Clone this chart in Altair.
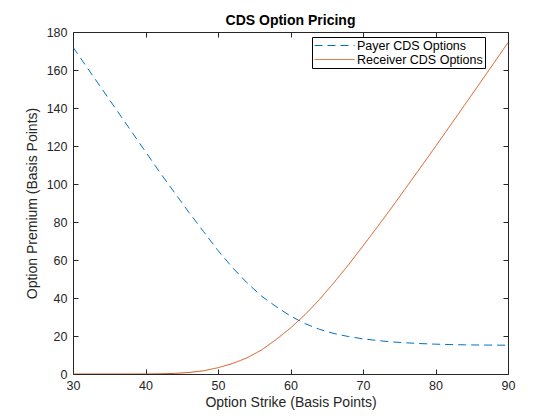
import altair as alt
import pandas as pd

strikes = [30, 32, 34, 36, 38, 40, 42, 44, 46, 48, 50, 52, 54, 56, 58, 60,
           62, 64, 66, 68, 70, 72, 74, 76, 78, 80, 82, 84, 86, 88, 90]
payer = [172.0, 161.0, 150.0, 139.0, 128.0, 117.0, 106.0, 95.5, 85.0, 75.0,
         65.0, 56.0, 48.0, 41.0, 35.5, 30.5, 26.5, 23.5, 21.3, 19.7, 18.5,
         17.6, 16.9, 16.4, 16.0, 15.7, 15.5, 15.35, 15.25, 15.2, 15.15]
receiver = [0.0, 0.0, 0.0, 0.0, 0.0, 0.02, 0.1, 0.3, 0.8, 1.7, 3.3, 5.5, 8.5,
            12.6, 18.1, 24.2, 31.2, 39.2, 48.1, 57.5, 67.4, 77.5, 87.8, 98.4,
            109.0, 119.7, 130.6, 141.5, 152.4, 163.4, 174.4]
series_names = ["Payer CDS Options", "Receiver CDS Options"]
x_ticks = [30, 40, 50, 60, 70, 80, 90]
y_ticks = [0, 20, 40, 60, 80, 100, 120, 140, 160, 180]
chart_title = ["CDS Option Pricing"]

rows = []
for k, p, r in zip(strikes, payer, receiver):
    rows.append({"strike": k, "premium": p, "series": series_names[0]})
    rows.append({"strike": k, "premium": r, "series": series_names[1]})
df = pd.DataFrame(rows)

FONT = "Liberation Sans"
AX = "#262626"
W, H = 435, 342

xscale = alt.Scale(domain=[30, 90], nice=False, zero=False)
yscale = alt.Scale(domain=[0, 180], nice=False)

lines = alt.Chart(df).mark_line(strokeWidth=1, clip=True).encode(
    x=alt.X("strike:Q", scale=xscale,
            axis=alt.Axis(orient="bottom", values=x_ticks, title="Option Strike (Basis Points)",
                          ticks=False, domain=False, grid=False, labelPadding=5,
                          labelFlush=False, titlePadding=4)),
    y=alt.Y("premium:Q", scale=yscale,
            axis=alt.Axis(orient="left", values=y_ticks, title="Option Premium (Basis Points)",
                          ticks=False, domain=False, grid=False, labelPadding=6,
                          labelFlush=False, titlePadding=7)),
    color=alt.Color("series:N", scale=alt.Scale(domain=series_names, range=["#0072BD", "#D95319"]),
                    title=None),
    strokeDash=alt.StrokeDash("series:N", scale=alt.Scale(domain=series_names, range=[[8, 5], [1, 0]]),
                              title=None),
)

ticks_bl = alt.Chart(df).mark_point(opacity=0).encode(
    x=alt.X("strike:Q", scale=xscale,
            axis=alt.Axis(orient="bottom", values=x_ticks, title=None, labels=False,
                          domain=False, grid=False, ticks=True, tickSize=5, offset=-5)),
    y=alt.Y("premium:Q", scale=yscale,
            axis=alt.Axis(orient="left", values=y_ticks, title=None, labels=False,
                          domain=False, grid=False, ticks=True, tickSize=5, offset=-5)),
)

ticks_tr = alt.Chart(df).mark_point(opacity=0).encode(
    x=alt.X("strike:Q", scale=xscale,
            axis=alt.Axis(orient="top", values=x_ticks, title=None, labels=False,
                          domain=False, grid=False, ticks=True, tickSize=5, offset=-5)),
    y=alt.Y("premium:Q", scale=yscale,
            axis=alt.Axis(orient="right", values=y_ticks, title=None, labels=False,
                          domain=False, grid=False, ticks=True, tickSize=5, offset=-5)),
)

title_layer = alt.Chart(pd.DataFrame({"t": chart_title})).mark_text(
    font=FONT, fontSize=14, fontWeight="bold", color="black",
    align="center", baseline="alphabetic",
).encode(
    text="t:N", x=alt.value(W / 2), y=alt.value(-7),
)

chart = alt.layer(lines, ticks_bl, ticks_tr, title_layer).resolve_axis(
    x="independent", y="independent"
).properties(
    width=W,
    height=H,
    autosize=alt.AutoSizeParams(type="none"),
    padding={"left": 65, "top": 24, "right": 44, "bottom": 38},
).configure_view(
    stroke=AX, strokeWidth=1
).configure_axis(
    labelFont=FONT, labelFontSize=12.5, labelColor=AX,
    titleFont=FONT, titleFontSize=14, titleColor=AX, titleFontWeight="normal",
    tickColor=AX, tickWidth=1,
).configure_legend(
    orient="none", legendX=239, legendY=5,
    symbolType="M-1,0L5.67,0", symbolSize=144, symbolStrokeWidth=1,
    labelOffset=30, labelFont=FONT, labelFontSize=12.5, labelColor="black",
    padding=2, rowPadding=1, strokeColor="black", fillColor="white",
    cornerRadius=0, symbolFillColor="transparent",
)

chart.save("out.html", embed_options={"renderer": "svg", "actions": False})
